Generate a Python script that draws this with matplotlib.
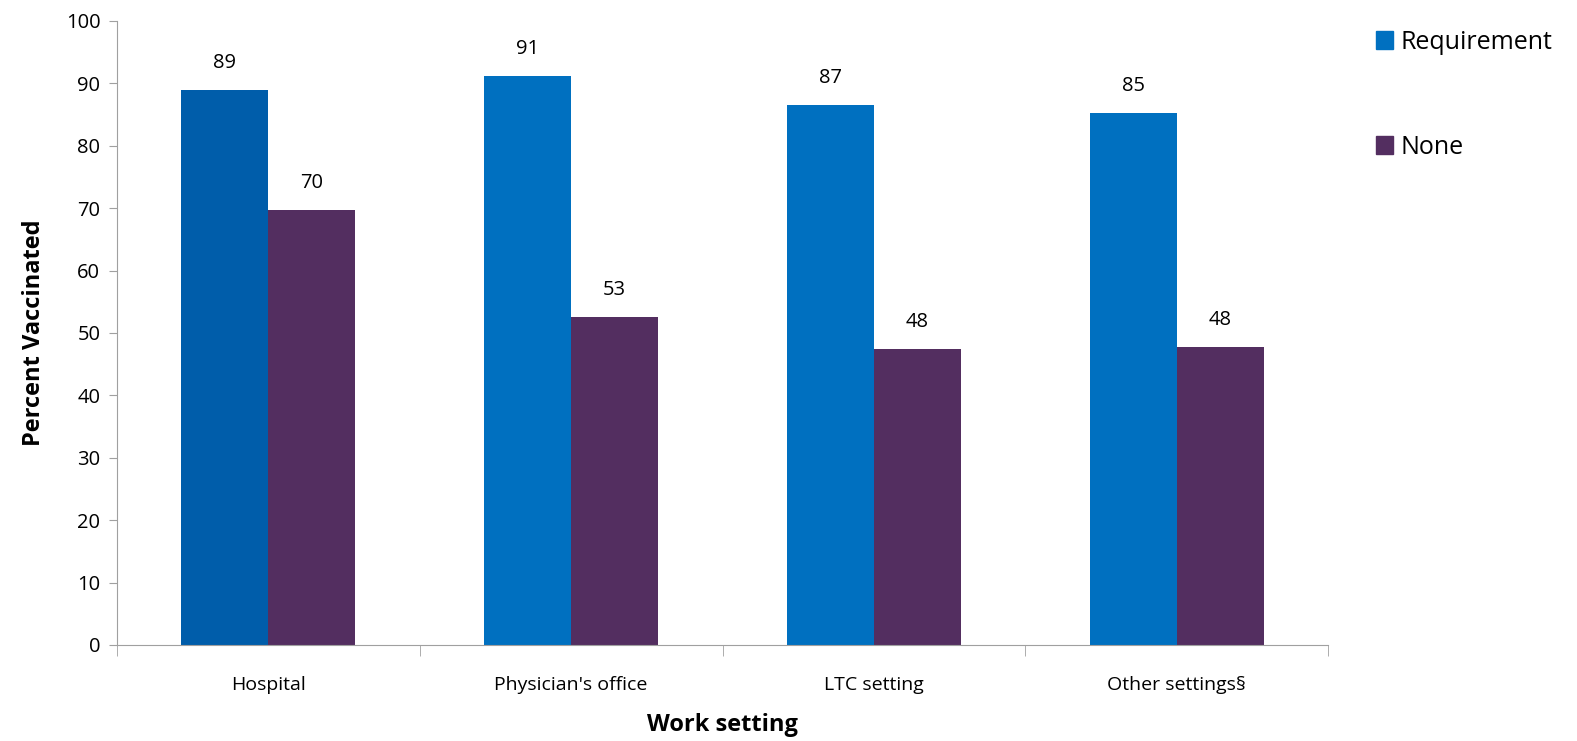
import matplotlib.pyplot as plt
import numpy as np
from matplotlib.patches import Patch

plt.rcParams['font.family'] = ['Open Sans', 'DejaVu Sans']

settings = ['Hospital', "Physician's office", 'LTC setting', 'Other settings§']
requirement = [88.9, 91.2, 86.5, 85.3]
none = [69.7, 52.6, 47.4, 47.8]
req_labels = ['89', '91', '87', '85']
none_labels = ['70', '53', '48', '48']

req_colors = ['#005DAA', '#0070C0', '#0070C0', '#0070C0']
none_color = '#532E60'

fig = plt.figure(figsize=(15.77, 7.41), dpi=100)
ax = fig.add_axes([0.0742, 0.1296, 0.7679, 0.8421])

x = np.arange(len(settings))
w = 0.287
ax.bar(x - w/2, requirement, w, color=req_colors)
ax.bar(x + w/2, none, w, color=none_color)

# 数值标签
for xi, v, s in zip(x, requirement, req_labels):
    ax.text(xi - w/2, v + 4.3, s, ha='center', va='center', fontsize=14.5)
for xi, v, s in zip(x, none, none_labels):
    ax.text(xi + w/2, v + 4.3, s, ha='center', va='center', fontsize=14.5)

ax.set_xlim(-0.5, len(settings) - 0.5)
ax.set_ylim(0, 100)
ax.set_yticks(range(0, 101, 10))
ax.tick_params(axis='y', labelsize=14.5, length=6, color='#a0a0a0', direction='out', pad=6)
ax.set_xticks(x)
ax.set_xticklabels(settings, fontsize=14)
ax.tick_params(axis='x', length=0, pad=22)
ax.set_xticks(np.arange(-0.5, len(settings)), minor=True)
ax.tick_params(axis='x', which='minor', length=8, color='#a0a0a0', direction='out')

for side in ['top', 'right']:
    ax.spines[side].set_visible(False)
for side in ['left', 'bottom']:
    ax.spines[side].set_color('#a0a0a0')

ax.set_ylabel('Percent Vaccinated', fontsize=17, fontweight='bold', labelpad=14)
ax.set_xlabel('Work setting', fontsize=17, fontweight='bold', labelpad=14)

handles = [Patch(color='#0070C0'), Patch(color=none_color)]
fig.legend(handles, ['Requirement', 'None'], loc='upper left',
           bbox_to_anchor=(0.858, 0.99), frameon=False, fontsize=18,
           handlelength=0.7, handleheight=0.7, labelspacing=3.2, handletextpad=0.3)

fig.savefig('out.png', dpi=100)
